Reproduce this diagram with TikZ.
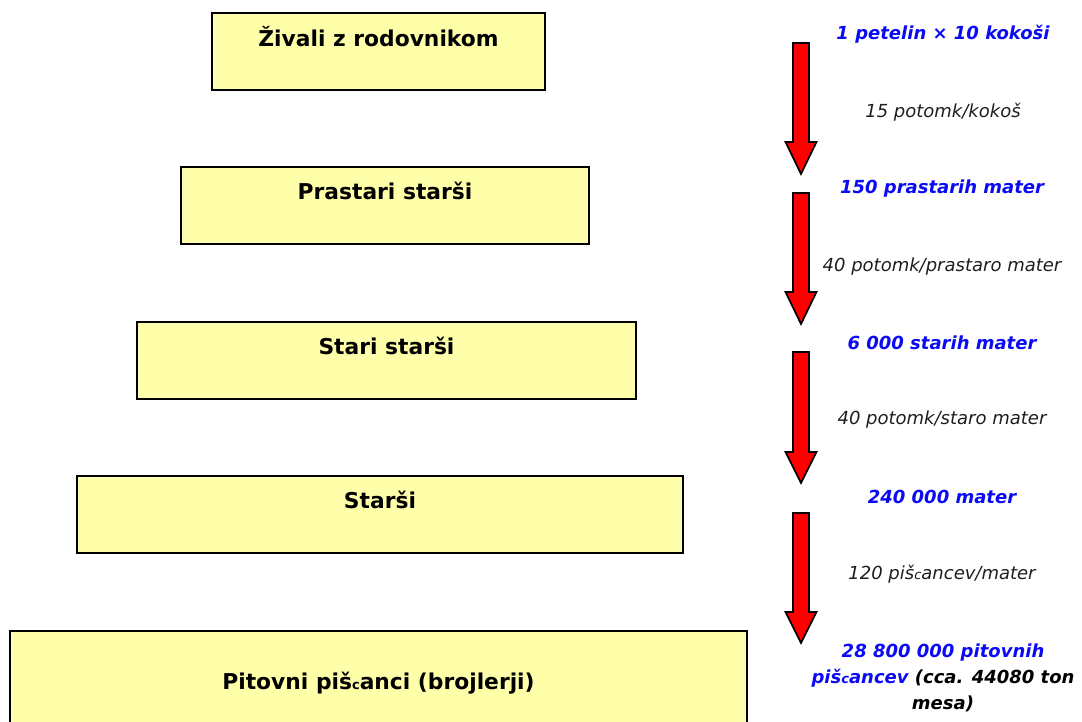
\documentclass[tikz,border=0pt]{standalone}
\usepackage{fontspec}
\setmainfont{DejaVu Sans}
\definecolor{boxfill}{RGB}{255,255,170}
\definecolor{numblue}{RGB}{10,10,245}
\definecolor{ratetext}{RGB}{30,30,30}
\tikzset{
  tier/.style={draw=black, line width=2.8pt, fill=boxfill, rectangle, inner sep=0pt},
  tiername/.style={font=\bfseries\fontsize{21.8}{24}\selectfont, text=black, anchor=center},
  count/.style={font=\bfseries\itshape\fontsize{18}{26}\selectfont, text=numblue, align=center},
  rate/.style={font=\itshape\fontsize{18}{21}\selectfont, text=ratetext},
  flow/.style={draw=black, line width=1.7pt, fill=red, line join=miter},
}
% downward block arrow: centre x, top y, head start y, tip y
\newcommand\flowarrow[4]{%
  \draw[flow] (#1-8,#2) -- (#1+8,#2) -- (#1+8,#3) -- (#1+15.5,#3) -- (#1,#4)
    -- (#1-15.5,#3) -- (#1-8,#3) -- cycle;}
\newcommand\smallc{{\fontsize{13}{14}\selectfont c}}
\begin{document}
\begin{tikzpicture}[x=1pt,y=-1pt]
\useasboundingbox (0,0) rectangle (1082,722);
\clip (0,0) rectangle (1082,722);

% tiers of the breeding pyramid
\node[tier, minimum width=333, minimum height=77] (t1) at (378.5,51.5) {};
\node[tiername] (n1) at ([yshift=-25pt]t1.north) {Živali z rodovnikom};
\node[tier, minimum width=408, minimum height=77] (t2) at (385,205.5) {};
\node[tiername] (n2) at ([yshift=-25pt]t2.north) {Prastari starši};
\node[tier, minimum width=499, minimum height=77] (t3) at (386.5,360.5) {};
\node[tiername] (n3) at ([yshift=-25pt]t3.north) {Stari starši};
\node[tier, minimum width=606, minimum height=77] (t4) at (380,514.5) {};
\node[tiername] (n4) at ([yshift=-25pt]t4.north) {Starši};
\node[tier, minimum width=737, minimum height=110] (t5) at (378.5,686) {};
\node[tiername] (n5) at (378.5,683) {Pitovni piš\smallc anci (brojlerji)};

% arrows between generations
\flowarrow{801}{43}{142}{174}
\flowarrow{801}{193}{292}{324}
\flowarrow{801}{352}{452}{483}
\flowarrow{801}{513}{612}{643}

% head counts
\node[count] (c1) at (943,34) {1 petelin × 10 kokoši};
\node[count] (c2) at (942,189) {150 prastarih mater};
\node[count] (c3) at (942,343) {6 000 starih mater};
\node[count] (c4) at (942,497) {240 000 mater};
\node[count] (c5) at (943,678) {28 800 000 pitovnih\\
  piš\smallc ancev {\color{black}(cca. 44080 ton}\\{\color{black}mesa)}};

% offspring rates
\node[rate] (r1) at (943,112) {15 potomk/kokoš};
\node[rate] (r2) at (942,267) {40 potomk/prastaro mater};
\node[rate] (r3) at (942,420) {40 potomk/staro mater};
\node[rate] (r4) at (942,574) {120 piš\smallc ancev/mater};
\end{tikzpicture}
\end{document}
